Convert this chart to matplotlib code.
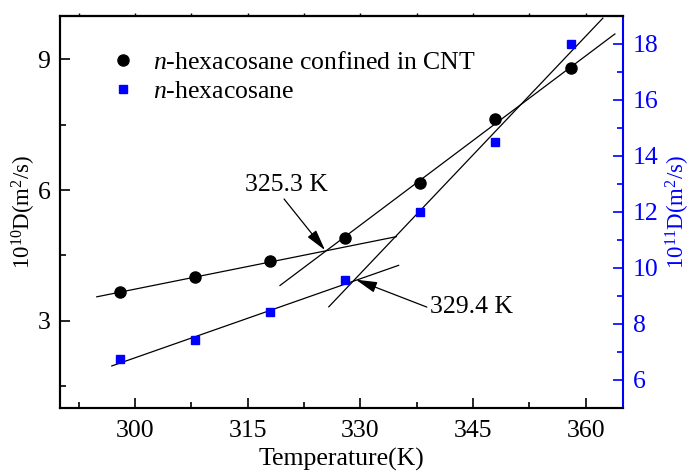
import matplotlib
matplotlib.use("Agg")
import matplotlib.pyplot as plt
from matplotlib.ticker import MultipleLocator

plt.rcParams['font.family'] = ['Liberation Serif', 'DejaVu Serif']
plt.rcParams['mathtext.fontset'] = 'custom'
plt.rcParams['mathtext.rm'] = 'Liberation Serif'
plt.rcParams['mathtext.it'] = 'Liberation Serif:italic'

# Temperatures (K)
temperature = [298, 308, 318, 328, 338, 348, 358]
# Diffusion coefficient, n-hexacosane confined in CNT (1e-10 m^2/s)
d_confined = [3.67, 4.00, 4.37, 4.89, 6.17, 7.62, 8.79]
# Diffusion coefficient, bulk n-hexacosane (1e-11 m^2/s)
d_bulk = [6.74, 7.42, 8.43, 9.58, 12.0, 14.5, 18.0]

# Linear fit segments: (T_start, T_end), (D_start, D_end)
fit_conf_low_T = [294.9, 334.8]
fit_conf_low_D = [3.55, 4.93]
fit_conf_high_T = [319.3, 363.9]
fit_conf_high_D = [3.81, 9.58]
fit_bulk_low_T = [296.9, 335.1]
fit_bulk_low_D = [6.50, 10.09]
fit_bulk_high_T = [325.8, 362.3]
fit_bulk_high_D = [8.61, 18.91]

# Transition temperatures
tc_confined = 325.3
tc_bulk = 329.4
tc_confined_D = 4.62
tc_bulk_D = 9.58

fig = plt.figure(figsize=(6.91, 4.71), dpi=100)
ax = fig.add_axes([0.0868, 0.1338, 0.815, 0.833])
ax2 = ax.twinx()

FS = 18.5
FS_Y = 16.5

ax.plot(fit_conf_low_T, fit_conf_low_D, color='black', lw=0.9)
ax.plot(fit_conf_high_T, fit_conf_high_D, color='black', lw=0.9)
h1, = ax.plot(temperature, d_confined, 'o', color='black', ms=8,
              label=r'$n$-hexacosane confined in CNT')

ax2.plot(fit_bulk_low_T, fit_bulk_low_D, color='black', lw=0.9)
ax2.plot(fit_bulk_high_T, fit_bulk_high_D, color='black', lw=0.9)
h2, = ax2.plot(temperature, d_bulk, 's', color='#0000ff', ms=6,
               label=r'$n$-hexacosane')

ax.set_xlim(290, 365)
ax.set_ylim(1, 10)
ax2.set_ylim(5, 19)

ax.xaxis.set_major_locator(MultipleLocator(15))
ax.xaxis.set_minor_locator(MultipleLocator(7.5))
ax.yaxis.set_major_locator(MultipleLocator(3))
ax.yaxis.set_minor_locator(MultipleLocator(1.5))
ax2.yaxis.set_major_locator(MultipleLocator(2))
ax2.yaxis.set_minor_locator(MultipleLocator(1))

ax.tick_params(axis='both', which='both', direction='in', labelsize=FS,
               top=False, right=False, width=1.2)
ax.tick_params(axis='both', which='major', length=7)
ax.tick_params(axis='both', which='minor', length=4)
ax.tick_params(axis='x', which='both', pad=9)
ax.tick_params(axis='y', which='both', pad=7)
ax2.tick_params(axis='y', which='both', direction='in', colors='#0000ff',
                labelsize=FS, width=1.2, pad=7)
ax2.tick_params(axis='y', which='major', length=7)
ax2.tick_params(axis='y', which='minor', length=4)

# short outward marks along the top edge
ax_top = ax.secondary_xaxis('top')
ax_top.xaxis.set_major_locator(MultipleLocator(7.5))
ax_top.tick_params(axis='x', direction='out', length=2, width=1.0,
                   labeltop=False)
ax_top.spines['top'].set_linewidth(1.5)

for s in ['left', 'bottom', 'top']:
    ax.spines[s].set_linewidth(1.5)
    ax2.spines[s].set_linewidth(1.5)
ax2.spines['right'].set_color('#0000ff')
ax2.spines['right'].set_linewidth(1.5)
ax.spines['right'].set_visible(False)

ax.set_xlabel('Temperature(K)', fontsize=FS, labelpad=4)
ax.set_ylabel(r'10$^{10}$D(m$^{2}$/s)', fontsize=FS_Y, labelpad=-0.5)
ax2.set_ylabel(r'10$^{11}$D(m$^{2}$/s)', fontsize=FS_Y, color='#0000ff',
               labelpad=4)

arrow = dict(arrowstyle='-|>,head_length=0.7,head_width=0.18', color='black',
             lw=0.9, shrinkA=0, shrinkB=0)
ax.annotate(f'{tc_confined} K', xy=(tc_confined, tc_confined_D),
            xytext=(320.1, 6.11), fontsize=FS, ha='center', va='center',
            arrowprops=dict(arrow, relpos=(0.45, 0.0)))
ax2.annotate(f'{tc_bulk} K', xy=(tc_bulk, tc_bulk_D),
             xytext=(339.3, 8.60), fontsize=FS, ha='left', va='center',
             arrowprops=dict(arrow, relpos=(-0.04, 0.5)))

ax2.legend(handles=[h1, h2], loc='upper left', bbox_to_anchor=(0.06, 0.955),
           frameon=False, fontsize=FS, handlelength=0.9, handletextpad=0.7,
           labelspacing=0.22, borderpad=0.2)

fig.savefig('out.png', dpi=100)
